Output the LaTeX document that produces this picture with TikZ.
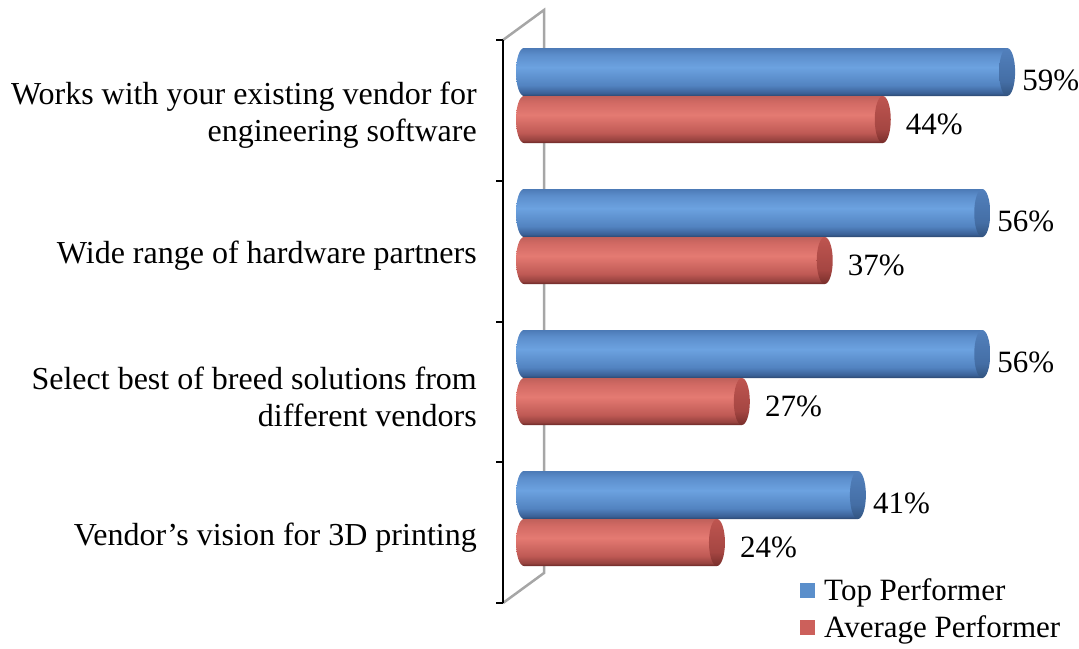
\documentclass[tikz,border=0pt]{standalone}
\usepackage{fontspec}
\setmainfont{Liberation Serif}
\definecolor{toplegend}{HTML}{5B8FCB}
\definecolor{avglegend}{HTML}{CC605B}
\pgfdeclareverticalshading{topbody}{100bp}{color(0bp)=(black!40!blue!60!white); color(25bp)=({rgb,255:red,44;green,72;blue,112});
  color(28bp)=({rgb,255:red,58;green,96;blue,150}); color(36bp)=({rgb,255:red,82;green,131;blue,192});
  color(55bp)=({rgb,255:red,108;green,162;blue,224}); color(68bp)=({rgb,255:red,92;green,142;blue,204});
  color(75bp)=({rgb,255:red,76;green,122;blue,182}); color(100bp)=({rgb,255:red,76;green,122;blue,182})}
\pgfdeclareverticalshading{topcap}{100bp}{color(0bp)=({rgb,255:red,50;green,84;blue,128}); color(25bp)=({rgb,255:red,50;green,84;blue,128});
  color(40bp)=({rgb,255:red,68;green,110;blue,165}); color(75bp)=({rgb,255:red,82;green,128;blue,188}); color(100bp)=({rgb,255:red,82;green,128;blue,188})}
\pgfdeclareverticalshading{avgbody}{100bp}{color(0bp)=({rgb,255:red,106;green,40;blue,38}); color(25bp)=({rgb,255:red,106;green,40;blue,38});
  color(28bp)=({rgb,255:red,150;green,66;blue,62}); color(36bp)=({rgb,255:red,192;green,90;blue,85});
  color(55bp)=({rgb,255:red,228;green,122;blue,114}); color(68bp)=({rgb,255:red,210;green,106;blue,100});
  color(75bp)=({rgb,255:red,192;green,96;blue,90}); color(100bp)=({rgb,255:red,192;green,96;blue,90})}
\pgfdeclareverticalshading{avgcap}{100bp}{color(0bp)=({rgb,255:red,120;green,46;blue,43}); color(25bp)=({rgb,255:red,120;green,46;blue,43});
  color(40bp)=({rgb,255:red,165;green,70;blue,66}); color(75bp)=({rgb,255:red,190;green,85;blue,80}); color(100bp)=({rgb,255:red,190;green,85;blue,80})}
\tikzset{
  catlabel/.style={font=\fontsize{32}{37}\selectfont, anchor=east, align=right, inner sep=0pt},
  vallabel/.style={font=\fontsize{31}{37}\selectfont, anchor=west, inner sep=0pt},
  legtext/.style={font=\fontsize{31}{37}\selectfont, anchor=west, inner sep=0pt},
  legsq/.style={minimum size=15pt, inner sep=0pt},
  axisline/.style={line width=2pt, black},
  wall/.style={line width=2.5pt, gray!70},
}
% one cylinder bar: #1 right end, #2 top, #3 bottom, #4 shading prefix
\newcommand\barcyl[4]{%
  \pgfmathsetmacro\ry{((#3)-(#2))/2}
  \pgfmathsetmacro\ym{(#2)+\ry}
  \shade[shading=#4body]
    (#1,#2) -- (524,#2) arc[start angle=270, end angle=90, x radius=8, y radius=\ry]
    -- (#1,#3) -- cycle;
  \shade[shading=#4cap] (#1,\ym) ellipse[x radius=8, y radius=\ry];
}

\begin{document}
\begin{tikzpicture}[x=1pt,y=-1pt] % bars as cylinders
\useasboundingbox (0,0) rectangle (1079,648);
\pgfmathsetmacro\zero{526}
\pgfmathsetmacro\unit{8.29}

\draw[wall] (503,40) -- (544,10) -- (544,573) -- (503,603);
\draw[axisline] (503,40) -- (503,603);
\foreach \y in {40,181,322,462,603}
  \draw[axisline] (496,\y) -- (503,\y);

\foreach \lab/\tp/\ap [count=\i] in {
    {Works with your existing vendor for\\engineering software}/59/44,
    {Wide range of hardware partners}/56/37,
    {Select best of breed solutions from\\different vendors}/56/27,
    {Vendor’s vision for 3D printing}/41/24}
{
    \pgfmathsetmacro\c{96+141*(\i-1)}
    \pgfmathsetmacro\ctop{\c-48}
    \pgfmathsetmacro\cbot{\c+47}
    \pgfmathsetmacro\xt{\zero+\unit*\tp}
    \pgfmathsetmacro\xa{\zero+\unit*\ap}
    \pgfmathsetmacro\et{\xt-8}
    \pgfmathsetmacro\ea{\xa-8}
    \barcyl{\et}{\ctop}{\c}{top}
    \barcyl{\ea}{\c}{\cbot}{avg}
    \node[catlabel] (cat\i) at (477,\c+19) {\lab};
    \node[vallabel] (top\i) at (\xt+7,\c-16) {\tp\%};
    \node[vallabel] (avg\i) at (\xa+15,\c+28) {\ap\%};
}

\node[legsq, fill=toplegend] (legtop) at (807,590) {};
\node[legsq, fill=avglegend] (legavg) at (807,627) {};
\node[legtext] (legtoptext) at (824,593) {Top Performer};
\node[legtext] (legavgtext) at (824,630) {Average Performer};
\end{tikzpicture}
\end{document}
